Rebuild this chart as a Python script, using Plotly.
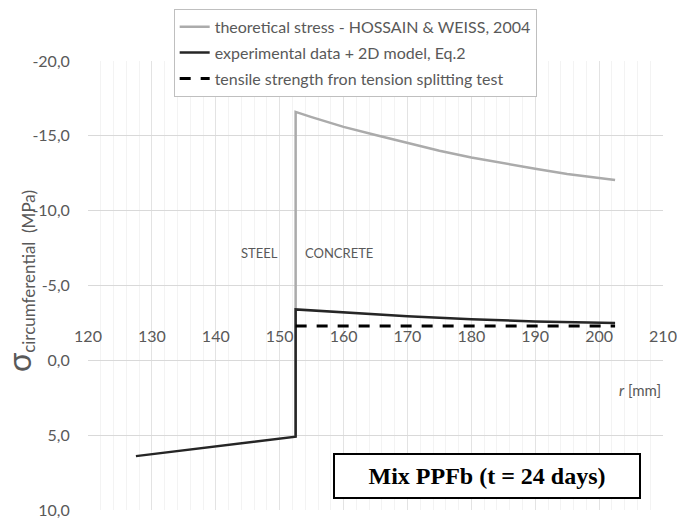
import plotly.graph_objects as go

# Data
theo_r = [152.5, 152.5, 155, 160, 165, 170, 175, 180, 185, 190, 195, 200, 202.5]
theo_s = [5.1, -16.6, -16.25, -15.6, -15.05, -14.5, -14.0, -13.55, -13.15, -12.8, -12.45, -12.15, -12.05]

exp_r = [127.5, 135, 140, 145, 152.5, 152.5, 160, 170, 180, 190, 202.5]
exp_s = [6.4, 6.0, 5.75, 5.5, 5.1, -3.4, -3.2, -2.95, -2.75, -2.6, -2.5]

ten_r = [152.5, 202.5]
ten_s = [-2.3, -2.3]

x_ticks = [120, 130, 140, 150, 160, 170, 180, 190, 200, 210]
y_ticks = [-20, -15, -10, -5, 0, 5, 10]
y_labels = ["-20,0", "-15,0", "-10,0", "-5,0", "0,0", "5,0", "10,0"]

names = ["theoretical stress - HOSSAIN & WEISS, 2004",
         "experimental data + 2D model, Eq.2",
         "tensile strength fron tension splitting test"]

fig = go.Figure()
fig.add_trace(go.Scatter(x=theo_r, y=theo_s, mode="lines", name=names[0],
                         legendgroup="a",
                         line=dict(color="#ababab", width=2.5)))
fig.add_trace(go.Scatter(x=exp_r, y=exp_s, mode="lines", name=names[1],
                         legendgroup="b",
                         line=dict(color="#262626", width=2.5)))
fig.add_trace(go.Scatter(x=ten_r, y=ten_s, mode="lines", name=names[2],
                         legendgroup="c",
                         line=dict(color="#000000", width=3, dash="11px,10px")))

tickfont = dict(family="Lato, Open Sans, sans-serif", size=16, color="#595959")

fig.update_layout(
    width=677, height=521,
    margin=dict(l=88, r=14, t=61, b=11, autoexpand=False),
    paper_bgcolor="white", plot_bgcolor="white",
    showlegend=True,
    legend=dict(x=0.149, y=1.116, xanchor="left", yanchor="top",
                bordercolor="#bfbfbf", borderwidth=1, bgcolor="white",
                tracegroupgap=2,
                font=dict(family="Lato, Open Sans, sans-serif", size=16, color="#595959")),
    xaxis=dict(range=[120, 210], tickvals=x_ticks, anchor="free", position=0.412,
               automargin=False,
               showgrid=True, gridcolor="#e3e3e3", gridwidth=1,
               minor=dict(dtick=2, showgrid=True, gridcolor="#f3f3f3", gridwidth=1),
               zeroline=False, showline=False, ticks="", tickfont=tickfont),
    yaxis=dict(range=[10, -20], tickvals=y_ticks, ticktext=y_labels,
               automargin=False,
               showgrid=True, gridcolor="#d9d9d9", gridwidth=1,
               zeroline=False, showline=False,
               ticks="outside", ticklen=14, tickcolor="rgba(0,0,0,0)",
               tickfont=tickfont),
)

fig.add_annotation(x=150, y=-7.2, xref="x", yref="y", text="STEEL", showarrow=False,
                   xanchor="right", font=dict(family="Lato, sans-serif", size=13, color="#595959"))
fig.add_annotation(x=153.6, y=-7.2, xref="x", yref="y", text="CONCRETE", showarrow=False,
                   xanchor="left", font=dict(family="Lato, sans-serif", size=13, color="#595959"))

fig.add_annotation(x=1.0, y=0.268, xref="paper", yref="paper", text="<i>r</i> [mm]",
                   showarrow=False, xanchor="right", yanchor="middle",
                   font=dict(family="Lato, sans-serif", size=15, color="#595959"))

fig.add_annotation(x=-0.12, y=0.51, xref="paper", yref="paper",
                   text="<span style='font-size:32px'>σ</span><sub><span style='font-size:17px'>circumferential  (MPa)</span></sub>",
                   textangle=-90, showarrow=False, xanchor="center", yanchor="middle",
                   font=dict(family="Lato, sans-serif", size=20, color="#595959"))

fig.add_annotation(x=0.6946, y=0.0758, xref="paper", yref="paper",
                   text="<b>Mix PPFb (t = 24 days)</b>", showarrow=False,
                   xanchor="center", yanchor="middle",
                   width=300, height=38, borderpad=2,
                   bordercolor="black", borderwidth=2, bgcolor="white",
                   font=dict(family="Liberation Serif, Times New Roman, serif", size=24, color="black"))

fig.write_html("out.html")
